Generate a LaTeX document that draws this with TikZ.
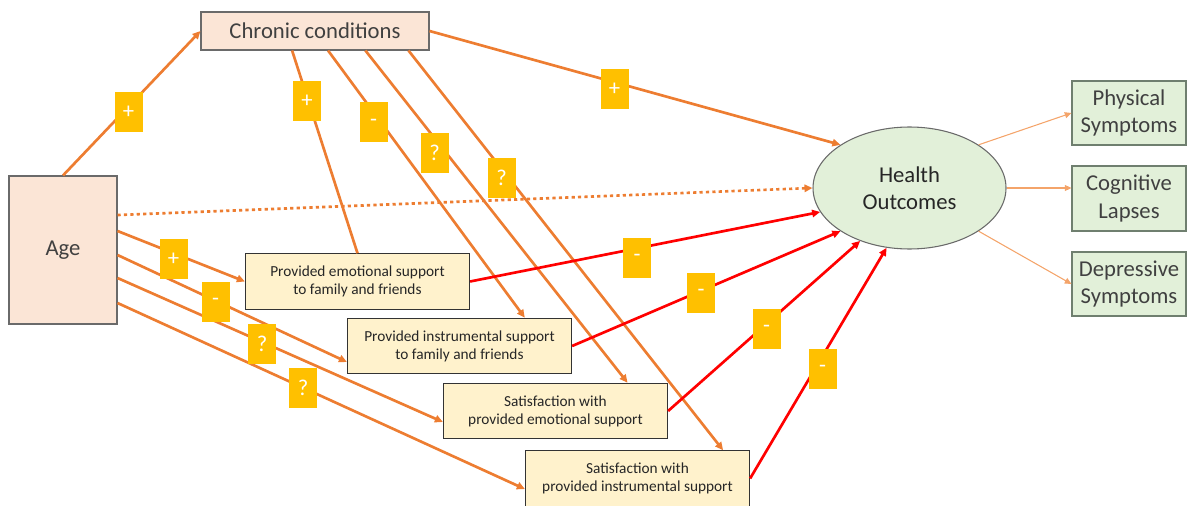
\documentclass[tikz,border=0pt]{standalone}
\usepackage{fontspec}
\setmainfont{Carlito}
\usetikzlibrary{arrows.meta,shapes.geometric,calc}
\definecolor{peach}{HTML}{FBE5D6}
\definecolor{cream}{HTML}{FFF2CC}
\definecolor{lgreen}{HTML}{E2F0D9}
\definecolor{gold}{HTML}{FFC000}
\definecolor{orng}{HTML}{ED7D31}
\definecolor{lorng}{HTML}{F4A46A}
\definecolor{redl}{HTML}{FF0000}
\definecolor{dtext}{HTML}{404040}
\definecolor{gbord}{HTML}{6A6A6A}
\definecolor{grbord}{HTML}{6F7F6F}
\begin{document}
\begin{tikzpicture}[x=0.75pt,y=-0.75pt,
  bigfont/.style={font=\fontsize{17}{20.5}\selectfont},
  peachbox/.style={draw=gbord, fill=peach, line width=0.8pt, text=dtext, bigfont, inner sep=0pt, align=center},
  supbox/.style={draw=black!80, fill=cream, line width=0.9pt, text=black!85, font=\fontsize{11.5}{13.5}\selectfont, align=center, inner sep=0pt, minimum width=168pt, minimum height=41.5pt},
  greenbox/.style={draw=grbord, fill=lgreen, line width=0.8pt, text=dtext, bigfont, align=center, inner sep=0pt, minimum width=85.5pt, minimum height=48pt},
  badge/.style={fill=gold, text=white, minimum width=21pt, minimum height=30pt, inner sep=0pt, font=\fontsize{17}{20}\selectfont},
  conn/.style={draw=orng, line width=2pt, -{Triangle[length=6pt,width=5.5pt]}},
  plainconn/.style={draw=orng, line width=2pt},
  negconn/.style={draw=redl, line width=2pt, -{Triangle[length=6pt,width=5.5pt]}},
  dotconn/.style={draw=orng, line width=2pt, dash pattern=on 2.4pt off 2.4pt, -{Triangle[length=6pt,width=5.5pt]}},
  thinconn/.style={draw=lorng, line width=0.8pt, -{Triangle[length=5pt,width=4.5pt]}}
]
\useasboundingbox (0,0) rectangle (1187,506);

% nodes
\node[peachbox, minimum width=171pt, minimum height=28.5pt] (chr) at (315,31) {Chronic conditions};
\node[peachbox, minimum width=81pt, minimum height=111pt] (age) at (63,250) {Age};
\node[supbox] (emo) at (357.5,281.5) {Provided emotional support\\to family and friends};
\node[supbox] (inst) at (459.5,346) {Provided instrumental support\\to family and friends};
\node[supbox] (semo) at (555.5,411) {Satisfaction with\\provided emotional support};
\node[supbox] (sinst) at (637.5,478.5) {Satisfaction with\\provided instrumental support};
\node[ellipse, draw=gbord, fill=lgreen, line width=0.8pt, text=black!85, bigfont, align=center, inner sep=0pt, minimum width=144.75pt, minimum height=91.5pt] (ho) at (909.5,188) {Health\\Outcomes};
\node[greenbox] (phys) at (1129,113) {Physical\\Symptoms};
\node[greenbox, minimum height=48.75pt] (cog) at (1129,198.5) {Cognitive\\Lapses};
\node[greenbox] (dep) at (1129,284) {Depressive\\Symptoms};

% orange connectors
\draw[conn] (age.north) -- (chr.west);
\draw[plainconn] ($(chr.south west)!0.4!(chr.south east)$) -- (emo.north);
\draw[conn] ($(chr.south west)!0.557!(chr.south east)$) -- ($(inst.north west)!0.79!(inst.north east)$);
\draw[conn] ($(chr.south west)!0.72!(chr.south east)$) -- ($(semo.north west)!0.82!(semo.north east)$);
\draw[conn] ($(chr.south west)!0.908!(chr.south east)$) -- ($(sinst.north west)!0.88!(sinst.north east)$);
\draw[conn] (chr.east) -- (ho.148);
\draw[dotconn] ([yshift=26.25pt]age.east) -- (ho.west);
\draw[conn] ([yshift=14.25pt]age.east) -- (emo.west);
\draw[conn] ([yshift=-3.75pt]age.east) -- ([yshift=-12pt]inst.west);
\draw[conn] ([yshift=-21pt]age.east) -- ([yshift=-8.25pt]semo.west);
\draw[conn] ([yshift=-39.75pt]age.east) -- ([yshift=-7.9pt]sinst.west);

% red connectors
\draw[negconn] (emo.east) -- (ho.195.6);
\draw[negconn] (inst.east) -- (ho.212);
\draw[negconn] (semo.east) -- (ho.227.5);
\draw[negconn] (sinst.east) -- (ho.249);

% outputs
\draw[thinconn] (ho.32.5) -- (phys.west);
\draw[thinconn] (ho.east) -- (ho.east -| cog.west);
\draw[thinconn] (ho.-32) -- (dep.west);

% badges
\node[badge] (b1) at (128.5,112) {+};
\node[badge] (b2) at (307,101) {+};
\node[badge] (b3) at (373.5,122.5) {-};
\node[badge] (b4) at (434.5,153) {?};
\node[badge] (b5) at (501.5,178) {?};
\node[badge] (b6) at (614.5,89) {+};
\node[badge] (b7) at (173.5,259) {+};
\node[badge] (b8) at (215.5,302) {-};
\node[badge] (b9) at (262,343.5) {?};
\node[badge] (b10) at (303,388) {?};
\node[badge] (b11) at (637,258) {-};
\node[badge] (b12) at (701,293) {-};
\node[badge] (b13) at (766.5,329) {-};
\node[badge] (b14) at (822.5,369) {-};
\end{tikzpicture}
\end{document}
